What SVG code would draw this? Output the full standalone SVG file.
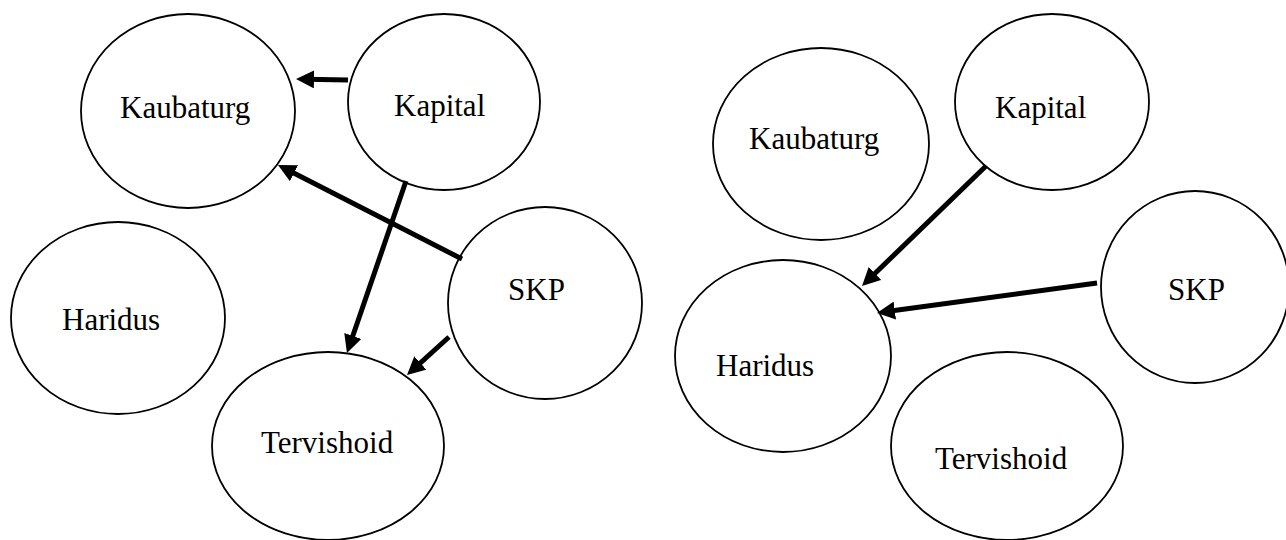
<svg xmlns="http://www.w3.org/2000/svg" width="1286" height="540" viewBox="0 0 1286 540">
<defs>
<style>
.n ellipse{fill:#fff;stroke:#000;stroke-width:1.8}
.n text{font-family:"Liberation Serif","Times New Roman",serif;font-size:31px;fill:#000}
.c line{stroke:#000;stroke-width:5}
</style>
<marker id="ah" markerUnits="userSpaceOnUse" markerWidth="18" markerHeight="18" refX="8" refY="9" orient="auto">
<path d="M0,0 L18,9 L0,18 z" fill="#000"/>
</marker>
</defs>
<rect width="1286" height="540" fill="#fff"/>
<g id="L-Kaubaturg" class="n"><ellipse cx="188" cy="111" rx="107" ry="97"/><text x="120" y="118">Kaubaturg</text></g>
<g id="L-Kapital" class="n"><ellipse cx="444" cy="102" rx="96" ry="88"/><text x="394" y="116">Kapital</text></g>
<g id="L-Haridus" class="n"><ellipse cx="118" cy="318" rx="107" ry="96"/><text x="62" y="330">Haridus</text></g>
<g id="L-SKP" class="n"><ellipse cx="545" cy="303" rx="97" ry="96"/><text x="508" y="300">SKP</text></g>
<g id="L-Tervishoid" class="n"><ellipse cx="328" cy="446" rx="116" ry="94"/><text x="261" y="453">Tervishoid</text></g>
<g id="R-Kaubaturg" class="n"><ellipse cx="821" cy="144" rx="108" ry="96"/><text x="749" y="149">Kaubaturg</text></g>
<g id="R-Kapital" class="n"><ellipse cx="1052" cy="102" rx="97" ry="88"/><text x="995" y="118">Kapital</text></g>
<g id="R-SKP" class="n"><ellipse cx="1195" cy="287" rx="94" ry="96"/><text x="1168" y="300">SKP</text></g>
<g id="R-Haridus" class="n"><ellipse cx="783" cy="356" rx="108" ry="96"/><text x="716" y="376">Haridus</text></g>
<g id="R-Tervishoid" class="n"><ellipse cx="1007" cy="446" rx="116" ry="94"/><text x="935" y="469">Tervishoid</text></g>
<g id="connectors" class="c">
<line x1="348" y1="80" x2="306" y2="79.2" marker-end="url(#ah)"/>
<line x1="462" y1="259" x2="286.9" y2="169.6" marker-end="url(#ah)"/>
<line x1="406" y1="181" x2="350.2" y2="343.5" marker-end="url(#ah)"/>
<line x1="449" y1="337" x2="414.4" y2="368.3" marker-end="url(#ah)"/>
<line x1="986" y1="166" x2="869.2" y2="279" marker-end="url(#ah)"/>
<line x1="1097" y1="283" x2="886.9" y2="311.6" marker-end="url(#ah)"/>
</g>
</svg>
